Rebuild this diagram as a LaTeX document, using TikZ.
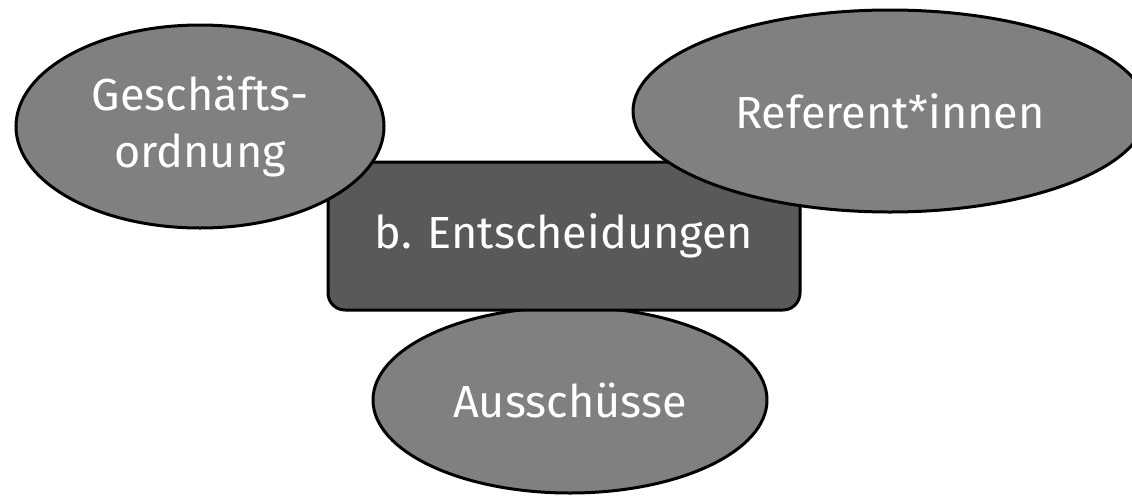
\documentclass[tikz,border=0pt]{standalone}
\usepackage{fontspec}
\setmainfont{Fira Sans}
\usetikzlibrary{shapes.geometric}
\definecolor{ellgray}{HTML}{808080}
\definecolor{boxgray}{HTML}{595959}
\tikzset{
  bubble/.style={ellipse, draw=black, line width=3pt, fill=ellgray, text=white, inner sep=0pt, align=center, font=\fontsize{45}{57}\selectfont},
  mainbox/.style={rectangle, rounded corners=17pt, draw=black, line width=3pt, fill=boxgray, text=white, inner sep=0pt, align=center, font=\fontsize{45}{57}\selectfont}
}
\begin{document}
\begin{tikzpicture}[x=1pt,y=-1pt]
\useasboundingbox (0,0) rectangle (1132,496);
\node[bubble, minimum width=394pt, minimum height=186pt] (aus) at (570,400) {Ausschüsse};
\node[mainbox, minimum width=472pt, minimum height=148pt] (ent) at (564,236) {b. Entscheidungen};
\node[bubble, minimum width=368pt, minimum height=203pt] (go) at (200,126.5) {Geschäfts-\\ordnung};
\node[bubble, minimum width=514pt, minimum height=202pt] (ref) at (890,111) {Referent*innen};
\end{tikzpicture}
\end{document}
